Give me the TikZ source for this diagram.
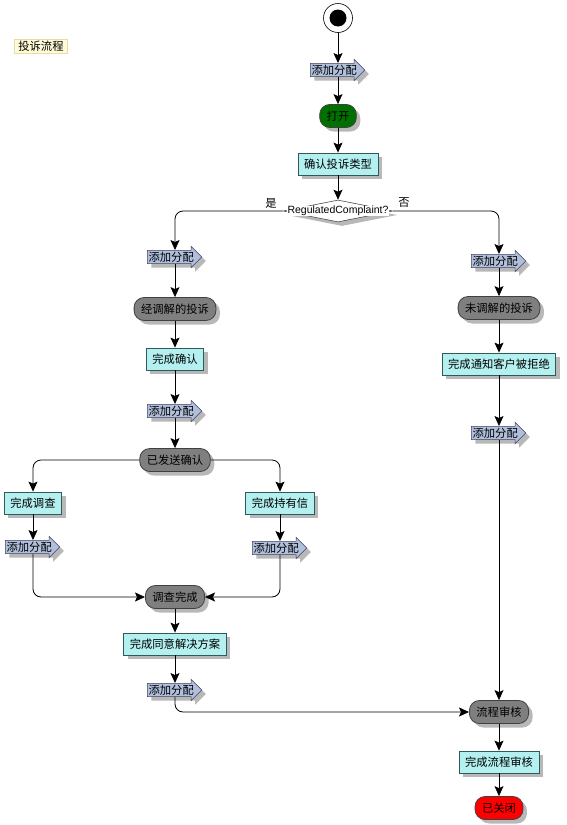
\documentclass[tikz,border=0pt]{standalone}
\usepackage{fontspec}
\setmainfont{Noto Sans CJK SC}
\newfontfamily\latinf{Liberation Sans}
\usetikzlibrary{shapes.arrows,shapes.geometric,shadows,arrows.meta}
\definecolor{boxfill}{HTML}{B4F0F0}
\definecolor{boxline}{HTML}{2E5A5A}
\definecolor{pillfill}{HTML}{7F7F7F}
\definecolor{arrfill}{HTML}{B0C0DC}
\definecolor{arrline}{HTML}{404060}
\definecolor{greenfill}{HTML}{007000}
\definecolor{titlefill}{HTML}{FFFBD8}
\definecolor{titleline}{HTML}{E6DDA8}
\begin{document}
\begin{tikzpicture}[x=1pt,y=-1pt,
  font=\fontsize{11.3}{12}\selectfont,
  shd/.style={drop shadow={shadow xshift=4pt,shadow yshift=-4pt,fill=black!28,opacity=1}},
  box/.style={draw=boxline,fill=boxfill,line width=0.8pt,minimum height=22pt,inner xsep=6pt,inner ysep=2pt,shd},
  pill/.style={draw=black!75,fill=pillfill,line width=0.8pt,rounded corners=10pt,minimum height=23pt,inner xsep=7pt,inner ysep=2pt,shd},
  addarr/.style={single arrow,draw=arrline,fill=arrfill,line width=0.6pt,single arrow head extend=4pt,inner xsep=1pt,inner ysep=1.2pt,anchor=west,shd},
  arr/.style={-{Stealth[length=10pt,width=9pt,inset=2pt]},line width=0.8pt},
  rc/.style={rounded corners=8pt}]
\useasboundingbox (0,0) rectangle (566,825);

% title
\node[draw=titleline,fill=titlefill,inner xsep=4pt,inner ysep=2pt] (title) at (41,46) {投诉流程};

% start
\node[circle,draw=black,fill=white,minimum size=29pt,inner sep=0pt,line width=0.6pt] (s) at (338,18) {};
\node[circle,fill=black,minimum size=17pt,inner sep=0pt] (sdot) at (s) {};

% main column
\node[addarr] (a1) at (310,70) {添加分配};
\node[pill,fill=greenfill] (open) at (338,116) {打开};
\node[box] (typ) at (338,164) {确认投诉类型};
\node[diamond,draw=black!70,fill=white,minimum width=110pt,minimum height=22pt,inner sep=0pt,line width=0.6pt,shd] (d) at (338,211) {};
\node[font=\latinf\fontsize{10.5}{11}\selectfont,fill=white,inner sep=0.5pt] (dt) at (d) {RegulatedComplaint?};
\node (yes) at (271,203) {是};
\node (no) at (404,203) {否};

% left column
\node[addarr] (a2) at (147,257) {添加分配};
\node[pill] (p1) at (175,309) {经调解的投诉};
\node[box] (b1) at (175,359) {完成确认};
\node[addarr] (a4) at (147,411) {添加分配};
\node[pill] (p2) at (175,460) {已发送确认};
\node[box] (b2) at (33,503) {完成调查};
\node[addarr] (a5) at (5,547) {添加分配};
\node[box] (b3) at (280,503) {完成持有信};
\node[addarr] (a6) at (252,548) {添加分配};
\node[pill] (p3) at (175,597) {调查完成};
\node[box] (b4) at (175,644) {完成同意解决方案};
\node[addarr] (a7) at (147,690) {添加分配};

% right column
\node[addarr] (a3) at (471,261) {添加分配};
\node[pill] (p4) at (499,308) {未调解的投诉};
\node[box] (b5) at (499,364) {完成通知客户被拒绝};
\node[addarr] (a8) at (471,433) {添加分配};
\node[pill] (p5) at (499,712) {流程审核};
\node[box] (b6) at (499,762) {完成流程审核};
\node[pill,fill=red] (p6) at (499,808) {已关闭};

% connectors
\draw[arr] (s) -- (s |- a1.north);
\draw[arr] (open |- a1.south) -- (open);
\draw[arr] (open) -- (typ);
\draw[arr] (typ) -- (d.north);
\draw[arr,rc] (d.west) -| (p1 |- a2.north);
\draw[arr,rc] (d.east) -| (p4 |- a3.north);
\draw[arr] (p1 |- a2.south) -- (p1);
\draw[arr] (p1) -- (b1);
\draw[arr] (b1) -- (b1 |- a4.north);
\draw[arr] (p2 |- a4.south) -- (p2);
\draw[arr,rc] (p2.west) -| (b2.north);
\draw[arr,rc] (p2.east) -| (b3.north);
\draw[arr] (b2) -- (b2 |- a5.north);
\draw[arr] (b3) -- (b3 |- a6.north);
\draw[arr,rc] (b2 |- a5.south) |- (p3.west);
\draw[arr,rc] (b3 |- a6.south) |- (p3.east);
\draw[arr] (p3) -- (b4);
\draw[arr] (b4) -- (b4 |- a7.north);
\draw[arr,rc] (b4 |- a7.south) |- (p5.west);
\draw[arr] (p4 |- a3.south) -- (p4);
\draw[arr] (p4) -- (b5);
\draw[arr] (b5) -- (b5 |- a8.north);
\draw[arr] (b5 |- a8.south) -- (p5);
\draw[arr] (p5) -- (b6);
\draw[arr] (b6) -- (p6);
\end{tikzpicture}
\end{document}
